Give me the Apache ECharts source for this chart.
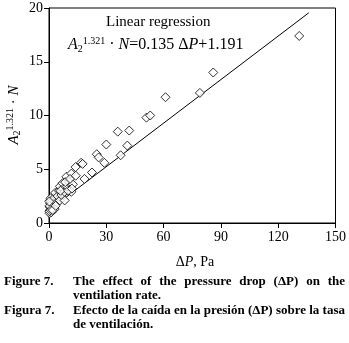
<!DOCTYPE html>
<html>
<head>
<meta charset="utf-8">
<script src="https://cdn.jsdelivr.net/npm/echarts@6/dist/echarts.min.js"></script>
<style>
  html, body { margin: 0; padding: 0; background: #fff; }
  #chart { width: 349px; height: 343px; }
</style>
</head>
<body>
<div id="chart"></div>
<script>
  // measured points: pressure drop (Pa) and A2^1.321*N
  var dpValues = [0.3, 0.5, 0.4, 0.6, 0.5, 0.8, 1.2, 1.5, 1.8, 1.5, 2.2, 2.5, 3.0, 3.2, 4.0, 4.5,
    5.2, 5.7, 5.7, 6.5, 7.1, 7.5, 8.2, 8.2, 9.1, 9.5, 10.5, 11.7, 11.7, 12.5, 13.9, 16.8,
    17.6, 18.6, 22.5, 25.0, 26.0, 29.0, 30.0, 36.0, 37.5, 41.0, 42.0, 51.0, 53.0, 61.0, 79.0, 86.0, 131.0,
    0.2, 0.3, 0.2, 1.0, 2.0, 3.5, 6.0, 10.0, 12.0, 8.5, 11.0, 14.0];
  var rateValues = [0.9, 1.2, 1.5, 1.8, 2.1, 2.3, 1.0, 1.4, 1.7, 2.0, 1.8, 2.3, 1.3, 2.8, 1.9, 2.5,
    3.0, 2.1, 3.4, 2.6, 3.7, 3.2, 2.1, 2.9, 4.3, 3.4, 3.8, 2.9, 4.6, 3.6, 5.2, 5.6,
    5.5, 4.1, 4.7, 6.4, 6.1, 5.6, 7.3, 8.5, 6.3, 7.2, 8.6, 9.8, 10.0, 11.7, 12.1, 14.0, 17.4,
    1.1, 1.6, 2.0, 1.2, 1.2, 1.6, 3.0, 3.0, 3.2, 3.8, 4.1, 4.4];
  // regression line end points
  var fitX = [0, 136];
  var fitY = [1.19, 19.55];
  var xTicks = [0, 30, 60, 90, 120, 150];
  var yTicks = [0, 5, 10, 15, 20];

  var serif = '"Liberation Serif", "DejaVu Serif", serif';
  var capFont = 'bold 13px ' + serif;
  var chart = echarts.init(document.getElementById('chart'), null, {renderer: 'canvas'});

  // lay words of a caption line out across a fixed width (justified)
  var ctx = document.createElement('canvas').getContext('2d');
  ctx.font = capFont;
  function justified(text, x0, x1, top) {
    var words = text.split(' ');
    var total = 0;
    words.forEach(function (w) { total += ctx.measureText(w).width; });
    var gap = (x1 - x0 - total) / (words.length - 1);
    var x = x0;
    return words.map(function (w) {
      var el = {type: 'text', left: x, top: top, style: {text: w, font: capFont, fill: '#000'}};
      x += ctx.measureText(w).width + gap;
      return el;
    });
  }

  var rich = {
    i: {fontFamily: serif, fontSize: 16, fontStyle: 'italic', fill: '#000'},
    n: {fontFamily: serif, fontSize: 16, fill: '#000'},
    s: {fontFamily: serif, fontSize: 10, fill: '#000', verticalAlign: 'bottom', padding: [8, 0, 0, 0]},
    u: {fontFamily: serif, fontSize: 10, fill: '#000', verticalAlign: 'top', padding: [0, 0, 8, 0]}
  };
  var yRich = {
    i: {fontFamily: serif, fontSize: 15, fontStyle: 'italic', fill: '#000'},
    n: {fontFamily: serif, fontSize: 15, fill: '#000'},
    s: {fontFamily: serif, fontSize: 10, fill: '#000', verticalAlign: 'bottom', padding: [7, 0, 0, 0]},
    u: {fontFamily: serif, fontSize: 10, fill: '#000', verticalAlign: 'top', padding: [0, 0, 7, 0]}
  };

  var graphics = [
    {
      type: 'text', left: 106, top: 15,
      style: {text: 'Linear regression', font: '15px ' + serif, fill: '#000'}
    },
    {
      type: 'text', left: 68, top: 36,
      style: {text: '{i|A}{s|2}{u|1.321}{n| · }{i|N}{n|=0.135 Δ}{i|P}{n|+1.191}', rich: rich}
    },
    {
      type: 'text', x: 14, y: 115, rotation: Math.PI / 2,
      style: {
        text: '{i|A}{s|2}{u|1.321}{n| · }{i|N}',
        align: 'center', verticalAlign: 'middle',
        rich: yRich
      }
    },
    {
      type: 'text', x: 195, y: 262,
      style: {
        text: '{n|Δ}{i|P}{n|, Pa}',
        align: 'center', verticalAlign: 'middle',
        rich: {
          i: {fontFamily: serif, fontSize: 14, fontStyle: 'italic', fill: '#000'},
          n: {fontFamily: serif, fontSize: 14, fill: '#000'}
        }
      }
    },
    {type: 'text', left: 4, top: 275, style: {text: 'Figure 7.', font: capFont, fill: '#000'}},
    {type: 'text', left: 73, top: 289, style: {text: 'ventilation rate.', font: capFont, fill: '#000'}},
    {type: 'text', left: 4, top: 304, style: {text: 'Figura 7.', font: capFont, fill: '#000'}},
    {type: 'text', left: 73, top: 318, style: {text: 'de ventilación.', font: capFont, fill: '#000'}}
  ];
  graphics = graphics
    .concat(justified('The effect of the pressure drop (ΔP) on the', 73, 345, 275))
    .concat(justified('Efecto de la caída en la presión (ΔP) sobre la tasa', 73, 345, 304));

  var option = {
    backgroundColor: '#fff',
    animation: false,
    grid: {
      left: 49, right: 9, top: 8, bottom: 120,
      show: true, borderColor: '#000', borderWidth: 1, backgroundColor: 'transparent'
    },
    xAxis: {
      type: 'value',
      min: xTicks[0], max: xTicks[xTicks.length - 1], interval: 30,
      axisLine: {lineStyle: {color: '#000', width: 1}},
      axisTick: {length: 5, lineStyle: {color: '#000'}},
      axisLabel: {color: '#000', fontFamily: serif, fontSize: 14, margin: 7},
      splitLine: {show: false}
    },
    yAxis: {
      type: 'value',
      min: yTicks[0], max: yTicks[yTicks.length - 1], interval: 5,
      axisLine: {lineStyle: {color: '#000', width: 1}},
      axisTick: {show: true, length: 5, lineStyle: {color: '#000'}},
      axisLabel: {color: '#000', fontFamily: serif, fontSize: 14, margin: 6},
      splitLine: {show: false}
    },
    series: [
      {
        type: 'line',
        data: fitX.map(function (x, i) { return [x, fitY[i]]; }),
        symbol: 'none',
        lineStyle: {color: '#000', width: 1},
        z: 1
      },
      {
        type: 'scatter',
        data: dpValues.map(function (x, i) { return [x, rateValues[i]]; }),
        symbol: 'diamond',
        symbolSize: [9, 9],
        itemStyle: {color: '#fff', borderColor: '#000', borderWidth: 1},
        z: 2
      }
    ],
    graphic: graphics
  };

  chart.setOption(option);
</script>
</body>
</html>
